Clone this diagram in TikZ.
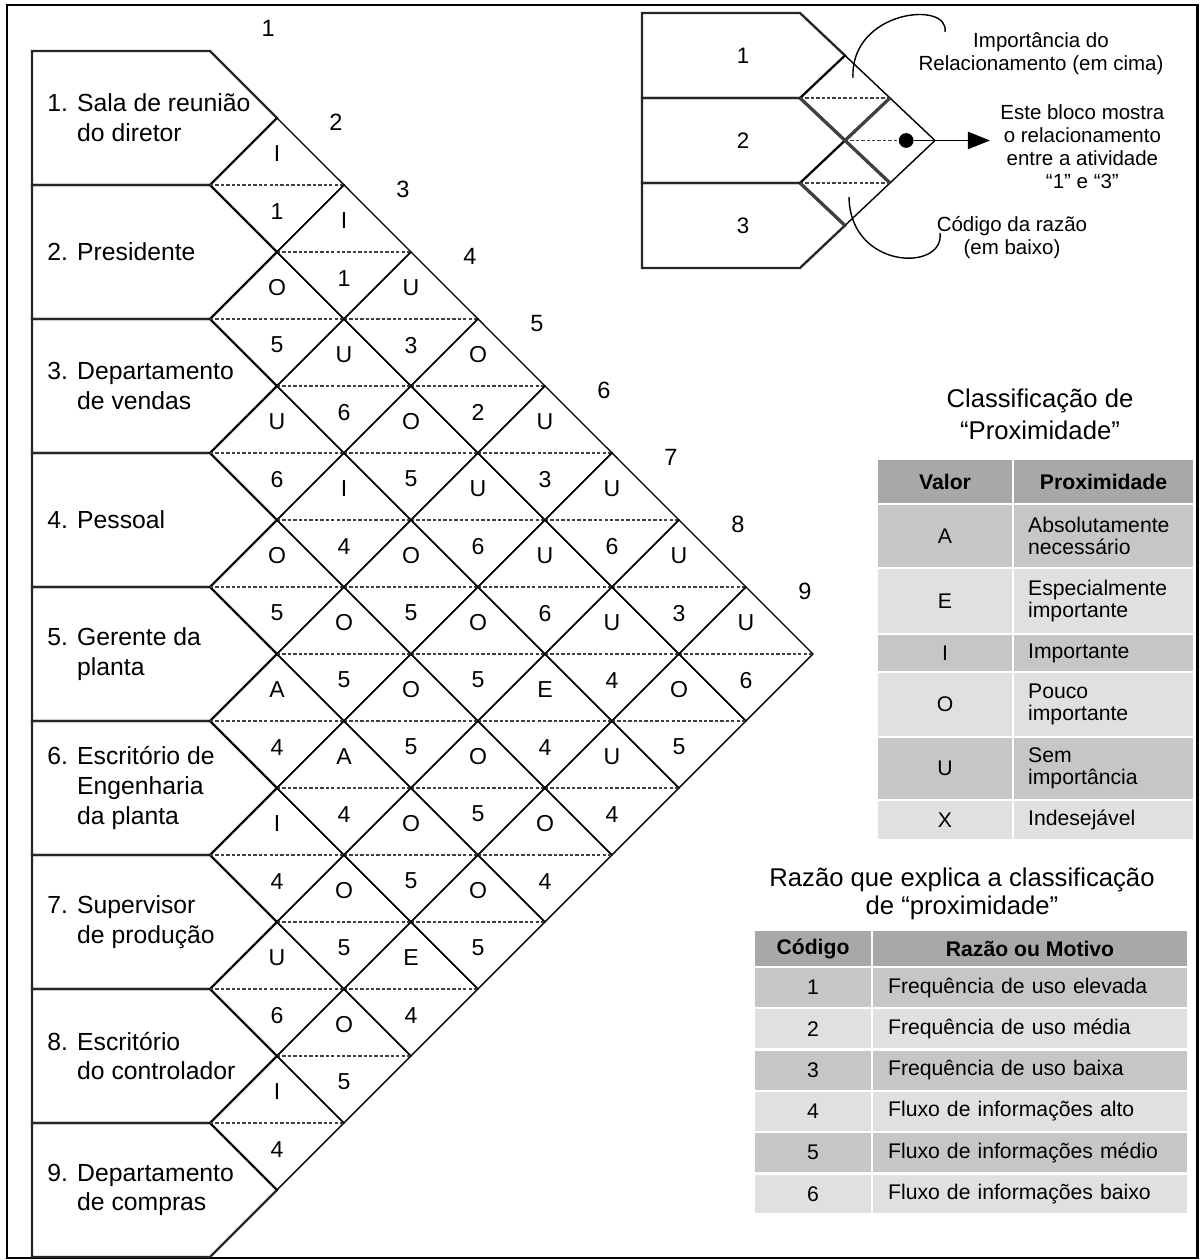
\documentclass[tikz,border=0pt]{standalone}
\usepackage{fontspec}
\setmainfont{Liberation Sans}
\usepackage{xcolor}
\usetikzlibrary{positioning,arrows.meta}

\definecolor{hdgray}{RGB}{168,168,168}
\definecolor{rowdark}{RGB}{198,198,198}
\definecolor{rowlight}{RGB}{224,224,224}

\begin{document}
\begin{tikzpicture}[
 boxline/.style={draw=black!85, line width=1pt},
 cell/.style={draw=black, line width=0.6pt},
 midline/.style={draw=black!75, line width=0.6pt, dash pattern=on 1.4pt off 0.9pt},
 thickline/.style={draw=black!75, line width=1.4pt},
 boxtext/.style={anchor=west, inner sep=0pt, align=left, font=\fontsize{10.5}{12.6}\selectfont},
 ratetext/.style={inner sep=0pt, font=\fontsize{9.8}{11}\selectfont},
 codetext/.style={inner sep=0pt, font=\fontsize{9.8}{11}\selectfont},
 colnum/.style={inner sep=0pt, font=\fontsize{10}{12}\selectfont},
 keynum/.style={inner sep=0pt, font=\fontsize{9.5}{11}\selectfont},
 keytext/.style={align=center, inner sep=0pt, font=\fontsize{8.7}{9.8}\selectfont},
 titletext/.style={align=center, inner sep=0pt, font=\fontsize{10.9}{13.2}\selectfont},
 hdcell/.style={draw=white, line width=1pt, fill=hdgray, inner sep=0pt, outer sep=0pt, align=center, font=\fontsize{9}{10}\selectfont\bfseries},
 darkcell/.style={hdcell, fill=rowdark, font=\fontsize{9}{9.6}\selectfont},
 lightcell/.style={darkcell, fill=rowlight},
 txtcell/.style={align=left, inner xsep=0.225cm, text width=2.251cm},
 longcell/.style={align=left, inner xsep=0.24cm, text width=4.236cm}
 ]
 \useasboundingbox (0,0) rectangle (17.940,-18.806);
 \draw[line width=0.9pt] (0.104,-0.075) rectangle (17.873,-18.776);

 % Activity boxes
 \def\XO{3.134}
 \def\YO{-0.761}
 \def\BL{0.478}
 \foreach \i in {1,...,9} {
 \pgfmathsetmacro\yt{\YO-2*\i+2}
 \draw[boxline] (\BL,\yt) -- (\XO,\yt) -- (\XO+1,\yt-1) -- (\XO,\yt-2) -- (\BL,\yt-2) -- cycle;
 }
 \foreach \i/\txt in {1/{1. Sala de reunião\\\phantom{1. }do diretor},
 2/{2. Presidente},
 3/{3. Departamento\\\phantom{3. }de vendas},
 4/{4. Pessoal},
 5/{5. Gerente da\\\phantom{5. }planta},
 6/{6. Escritório de\\\phantom{6. }Engenharia\\\phantom{6. }da planta},
 7/{7. Supervisor\\\phantom{7. }de produção},
 8/{8. Escritório\\\phantom{8. }do controlador},
 9/{9. Departamento\\\phantom{9. }de compras}}
 \node[boxtext] (lab\i) at (0.701,\YO-2*\i+1) {\txt};

 % Relationship diamonds (rating above, reason code below)
 \foreach \i/\j/\r/\c in {1/2/I/1, 1/3/I/1, 1/4/U/3, 1/5/O/2, 1/6/U/3, 1/7/U/6, 1/8/U/3, 1/9/U/6,
 2/3/O/5, 2/4/U/6, 2/5/O/5, 2/6/U/6, 2/7/U/6, 2/8/U/4, 2/9/O/5,
 3/4/U/6, 3/5/I/4, 3/6/O/5, 3/7/O/5, 3/8/E/4, 3/9/U/4,
 4/5/O/5, 4/6/O/5, 4/7/O/5, 4/8/O/5, 4/9/O/4,
 5/6/A/4, 5/7/A/4, 5/8/O/5, 5/9/O/5,
 6/7/I/4, 6/8/O/5, 6/9/E/4,
 7/8/U/6, 7/9/O/5,
 8/9/I/4} {
 \pgfmathsetmacro\cx{\XO+\j-\i}
 \pgfmathsetmacro\cy{\YO-\i-\j+1}
 \draw[cell] (\cx-1,\cy) -- (\cx,\cy+1) -- (\cx+1,\cy) -- (\cx,\cy-1) -- cycle;
 \draw[midline] (\cx-1,\cy) -- (\cx+1,\cy);
 \node[ratetext] (r\i\j) at (\cx,\cy+0.47) {\r};
 \node[codetext] (c\i\j) at (\cx,\cy-0.39) {\c};
 }

 % Column numbers
 \node[colnum] (n1) at (\XO+0.87,\YO+0.34) {1};
 \foreach \j in {2,...,9}
 \node[colnum] (n\j) at (\XO+\j-0.12,\YO-\j+0.93) {\j};

 % Key to reading a block
 \begin{scope}[shift={(11.940,-0.194)}, x=0.6716cm, y=0.6343cm]
 \foreach \i in {1,2,3}
 \draw[boxline] (-3.511,-2*\i+2) -- (0,-2*\i+2) -- (1,-2*\i+1) -- (0,-2*\i) -- (-3.511,-2*\i) -- cycle;
 \foreach \cx/\cy in {1/-2, 1/-4, 2/-3}
 \draw[cell] (\cx-1,\cy) -- (\cx,\cy+1) -- (\cx+1,\cy) -- (\cx,\cy-1) -- cycle;
 \draw[midline] (0,-2) -- (2,-2);
 \draw[midline] (0,-4) -- (2,-4);
 \draw[thickline] (0,-2) -- (2,-4);
 \draw[thickline] (1,-3) -- (2,-2);
 \draw[thickline] (0,-4) -- (1,-5);

 \node[keynum] (k1) at (-1.267,-1) {1};
 \node[keynum] (k2) at (-1.267,-3) {2};
 \node[keynum] (k3) at (-1.267,-5) {3};

 \node[circle, fill=black, inner sep=0pt, minimum size=0.22cm] (dot) at (2.36,-3) {};
 \draw[midline] (1,-3) -- (dot);

 \draw[line width=0.6pt] (1.178,-1.529) .. controls (1.111,0.071) and (3.333,0.306) .. (3.222,-0.447);
 \draw[line width=0.6pt] (1.089,-4.329) .. controls (1.111,-6.047) and (3.222,-6.094) .. (3.111,-5.176);

 \node[keytext] (imp) at (5.356,-0.965) {Importância do\\Relacionamento (em cima)};
 \node[keytext, anchor=west] (info) at (4.444,-3.153) {Este bloco mostra\\o relacionamento\\entre a atividade\\“1” e “3”};
 \node[keytext] (cod) at (4.711,-5.294) {Código da razão\\(em baixo)};
 \draw[-{Triangle[length=0.33cm,width=0.26cm]}, line width=0.6pt] (dot) -- ([xshift=-0.15cm]dot -| info.west);
 \end{scope}

 % Table: closeness rating
 \node[titletext, font=\fontsize{10.9}{13.6}\selectfont] (t1title) at (15.522,-6.179) {Classificação de\\“Proximidade”};
 \node[hdcell, minimum width=2.030cm, minimum height=0.672cm, anchor=north west] (t1h1) at (13.090,-6.851) {Valor};
 \node[hdcell, minimum width=2.701cm, minimum height=0.672cm, right=0pt of t1h1] (t1h2) {Proximidade};
 \node[darkcell, minimum width=2.030cm, minimum height=0.955cm, below=0pt of t1h1] (t1a1) {A};
 \node[darkcell, txtcell, minimum height=0.955cm, right=0pt of t1a1] (t1a2) {Absolutamente\\necessário};
 \node[lightcell, minimum width=2.030cm, minimum height=0.985cm, below=0pt of t1a1] (t1e1) {E};
 \node[lightcell, txtcell, minimum height=0.985cm, right=0pt of t1e1] (t1e2) {Especialmente\\importante};
 \node[darkcell, minimum width=2.030cm, minimum height=0.567cm, below=0pt of t1e1] (t1i1) {I};
 \node[darkcell, txtcell, minimum height=0.567cm, right=0pt of t1i1] (t1i2) {Importante};
 \node[lightcell, minimum width=2.030cm, minimum height=0.970cm, below=0pt of t1i1] (t1o1) {O};
 \node[lightcell, txtcell, minimum height=0.970cm, right=0pt of t1o1] (t1o2) {Pouco\\importante};
 \node[darkcell, minimum width=2.030cm, minimum height=0.940cm, below=0pt of t1o1] (t1u1) {U};
 \node[darkcell, txtcell, minimum height=0.940cm, right=0pt of t1u1] (t1u2) {Sem\\importância};
 \node[lightcell, minimum width=2.030cm, minimum height=0.597cm, below=0pt of t1u1] (t1x1) {X};
 \node[lightcell, txtcell, minimum height=0.597cm, right=0pt of t1x1] (t1x2) {Indesejável};

 % Table: reason codes
 \node[titletext, font=\fontsize{10.9}{11.9}\selectfont] (t2title) at (14.358,-13.343) {Razão que explica a classificação\\de “proximidade”};
 \node[hdcell, minimum width=1.761cm, minimum height=0.552cm, anchor=north west] (t2h1) at (11.254,-13.881) {Código};
 \node[hdcell, minimum width=4.716cm, minimum height=0.552cm, right=0pt of t2h1] (t2h2) {Razão ou Motivo};
 \node[darkcell, minimum width=1.761cm, minimum height=0.616cm, below=0pt of t2h1] (t2r1) {1};
 \node[darkcell, longcell, minimum height=0.616cm, right=0pt of t2r1] (t2m1) {Frequência de uso elevada};
 \node[lightcell, minimum width=1.761cm, minimum height=0.616cm, below=0pt of t2r1] (t2r2) {2};
 \node[lightcell, longcell, minimum height=0.616cm, right=0pt of t2r2] (t2m2) {Frequência de uso média};
 \node[darkcell, minimum width=1.761cm, minimum height=0.616cm, below=0pt of t2r2] (t2r3) {3};
 \node[darkcell, longcell, minimum height=0.616cm, right=0pt of t2r3] (t2m3) {Frequência de uso baixa};
 \node[lightcell, minimum width=1.761cm, minimum height=0.616cm, below=0pt of t2r3] (t2r4) {4};
 \node[lightcell, longcell, minimum height=0.616cm, right=0pt of t2r4] (t2m4) {Fluxo de informações alto};
 \node[darkcell, minimum width=1.761cm, minimum height=0.616cm, below=0pt of t2r4] (t2r5) {5};
 \node[darkcell, longcell, minimum height=0.616cm, right=0pt of t2r5] (t2m5) {Fluxo de informações médio};
 \node[lightcell, minimum width=1.761cm, minimum height=0.616cm, below=0pt of t2r5] (t2r6) {6};
 \node[lightcell, longcell, minimum height=0.616cm, right=0pt of t2r6] (t2m6) {Fluxo de informações baixo};
\end{tikzpicture}
\end{document}
